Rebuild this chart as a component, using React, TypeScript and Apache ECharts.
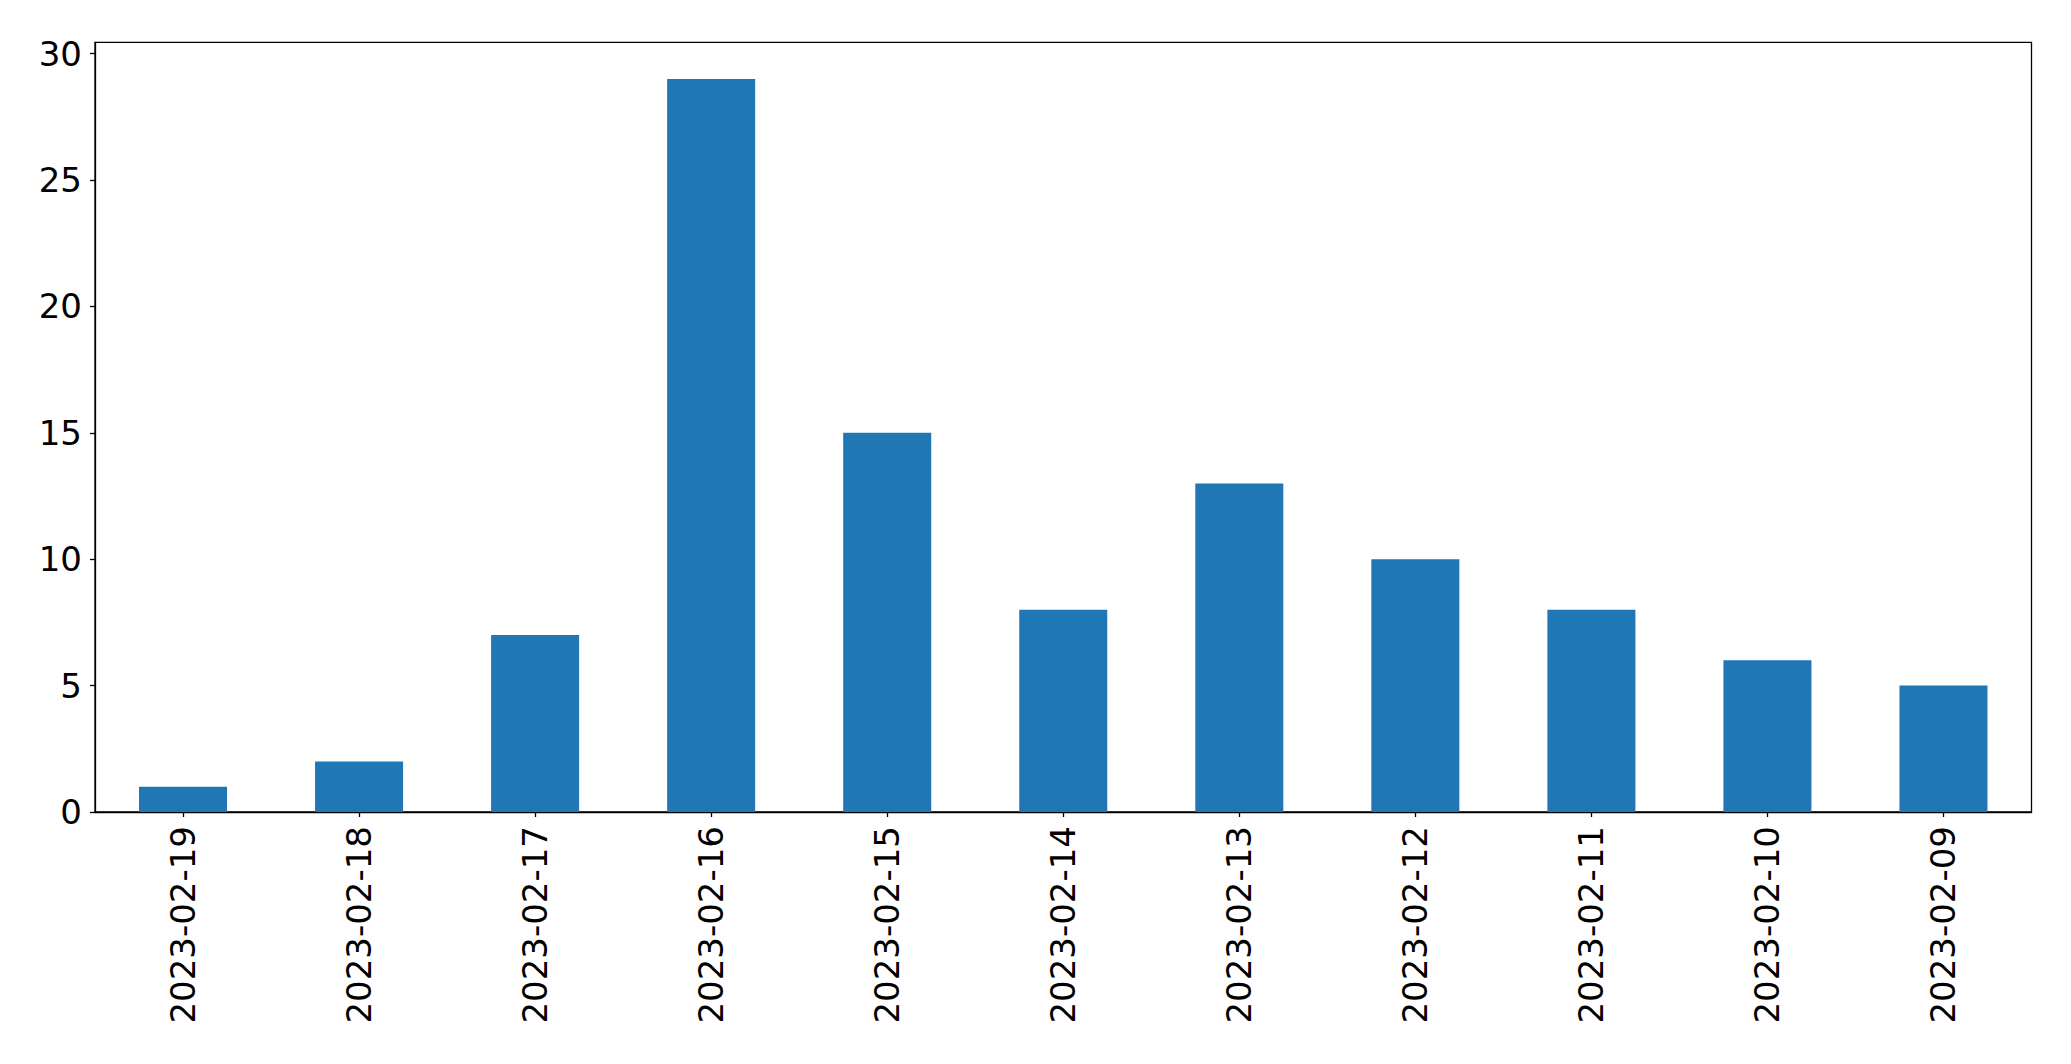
import React, { useEffect, useRef } from "react";
import * as echarts from "echarts";

const categories = [
  "2023-02-19", "2023-02-18", "2023-02-17", "2023-02-16", "2023-02-15", "2023-02-14",
  "2023-02-13", "2023-02-12", "2023-02-11", "2023-02-10", "2023-02-09",
];
const counts = [1, 2, 7, 29, 15, 8, 13, 10, 8, 6, 5];
const yTicks = [0, 5, 10, 15, 20, 25, 30];
const yMax = 30.45;

export default function App() {
  const ref = useRef<HTMLDivElement>(null);
  useEffect(() => {
    if (!ref.current) return;
    const chart = echarts.init(ref.current, undefined, { renderer: "svg" });
    chart.setOption({
      animation: false,
      backgroundColor: "#ffffff",
      textStyle: { fontFamily: "DejaVu Sans" },
      grid: {
        left: 95,
        right: 39.5,
        top: 42.3,
        bottom: 252,
        show: true,
        borderColor: "#000",
        borderWidth: 1.3,
        containLabel: false,
      },
      xAxis: {
        type: "category",
        data: categories,
        boundaryGap: true,
        axisLine: { show: true, lineStyle: { color: "#000", width: 1.3 } },
        axisTick: { show: true, alignWithLabel: true, length: 5, lineStyle: { color: "#000", width: 1.3 } },
        axisLabel: {
          rotate: 90,
          interval: 0,
          margin: 14,
          fontSize: 34,
          color: "#000",
          fontFamily: "DejaVu Sans",
        },
        splitLine: { show: false },
      },
      yAxis: {
        type: "value",
        min: 0,
        max: yMax,
        interval: 5,
        axisLine: { show: true, lineStyle: { color: "#000", width: 1.3 } },
        axisTick: { show: true, length: 5, customValues: yTicks, lineStyle: { color: "#000", width: 1.3 } },
        axisLabel: {
          customValues: yTicks,
          margin: 13,
          fontSize: 34,
          color: "#000",
          fontFamily: "DejaVu Sans",
        },
        splitLine: { show: false },
      },
      series: [
        {
          type: "bar",
          data: counts,
          barWidth: "50%",
          itemStyle: { color: "#1f77b4" },
        },
      ],
    });
    return () => chart.dispose();
  }, []);
  return (
    <div
      ref={ref}
      style={{ position: "fixed", left: 0, top: 0, width: 2071, height: 1064, background: "#fff" }}
    />
  );
}
